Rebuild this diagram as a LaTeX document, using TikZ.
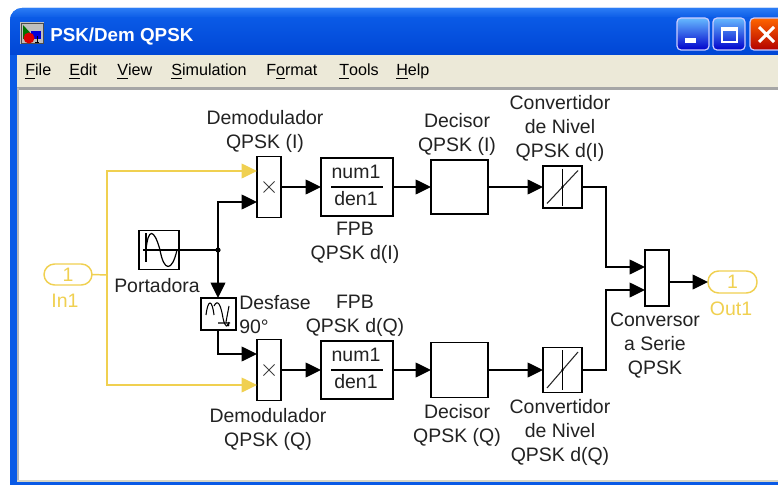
\documentclass[tikz,border=0pt]{standalone}
\usepackage{fontspec}
\setmainfont{Liberation Sans}
\usetikzlibrary{arrows.meta}
\definecolor{xpblue}{HTML}{0A5AE6}
\definecolor{xpdark}{HTML}{0046D5}
\definecolor{xplight}{HTML}{2B7CF5}
\definecolor{menubg}{HTML}{ECE9D8}
\definecolor{simyel}{HTML}{F0D050}
\definecolor{txt}{HTML}{222222}
\def\px{0.75pt}
\tikzset{
 x=0.75pt,y=-0.75pt,
 blockbox/.style={draw=black,line width=1.2pt,fill=white,inner sep=0pt,outer sep=0pt},
 wire/.style={draw=black,line width=1.1pt},
 arrwire/.style={wire,-{Triangle[length=11.5pt,width=11pt]}},
 yelwire/.style={draw=simyel,line width=1.1pt},
 yelarr/.style={yelwire,-{Triangle[length=11.5pt,width=11pt]}},
 lab/.style={font=\fontsize{14.6}{18}\selectfont,text=txt,align=center,inner sep=0pt},
 port/.style={draw=simyel,line width=1.1pt,rounded corners=8pt,fill=white,inner sep=0pt,outer sep=0pt,text=simyel,font=\fontsize{14.6}{18}\selectfont},
 ylab/.style={lab,text=simyel},
 menu/.style={font=\fontsize{12.1}{15}\selectfont,text=black,inner sep=0pt,anchor=base west},
 winbtn/.style={draw=white!80!blue,line width=0.9pt,rounded corners=3pt},
}
\newcommand{\ul}[1]{\underline{#1}}
\begin{document}
\begin{tikzpicture}
\useasboundingbox (0,0) rectangle (778,485);
\fill[white] (0,0) rectangle (778,485);
% window frame
\fill[xpblue,rounded corners=9pt] (10,500) rectangle (800,8);
\begin{scope}
\clip[rounded corners=9pt] (10,500) rectangle (800,8);
\shade[top color=xplight,bottom color=xpblue] (10,8) rectangle (778,18);
\shade[top color=xpblue,bottom color=xpdark] (10,18) rectangle (778,55);
\end{scope}
\fill[xpblue] (10,55) rectangle (17,485);
\fill[xpblue] (17,481) rectangle (778,485);
\fill[menubg] (17,55) rectangle (778,88);
\fill[gray!70] (17,87) rectangle (778,90);
\fill[white] (19,90) rectangle (778,481);
\fill[gray!55] (17,88) rectangle (19,481);
\fill[menubg!80!gray] (17,480) rectangle (778,482);
% title icon
\fill[gray!50] (20,22) rectangle (44,44);
\draw[black!70,line width=0.5pt] (21,23) rectangle (43,43);
\fill[green!45!black] (23,25) -- (23,39) -- (36,39) -- cycle;
\fill[blue!85!black] (31,31) rectangle (41,39);
\fill[red!85!black] (29,38) circle[radius=5.5];
\draw[black,line width=0.6pt] (37,36) -- (37,42) (35,42) -- (39,42);
\node[font=\fontsize{14.1}{17}\bfseries\selectfont,text=white,anchor=base west,inner sep=0pt] (wintitle) at (50,42) {PSK/Dem QPSK};
% window buttons
\shade[winbtn,top color=blue!45!cyan!60!white,bottom color=blue!80!black] (677,18) rectangle (709,50);
\fill[white] (685,38) rectangle (696,43);
\shade[winbtn,top color=blue!45!cyan!60!white,bottom color=blue!80!black] (713,18) rectangle (745,50);
\draw[white,line width=1pt] (722,28) rectangle (737,42);
\fill[white] (722,28) rectangle (737,31);
\shade[winbtn,top color=orange!80!red,bottom color=red!70!black] (750,18) rectangle (790,50);
\draw[white,line width=2.2pt] (759,27) -- (774,42) (774,27) -- (759,42);
% menu
\node[menu] (mfile) at (25,76) {\ul{F}ile};
\node[menu] (medit) at (69,76) {\ul{E}dit};
\node[menu] (mview) at (117,76) {\ul{V}iew};
\node[menu] (msim) at (171,76) {\ul{S}imulation};
\node[menu] (mfmt) at (266,76) {F\ul{o}rmat};
\node[menu] (mtools) at (339,76) {\ul{T}ools};
\node[menu] (mhelp) at (396,76) {\ul{H}elp};
% blocks
\node[port,minimum width=48*\px,minimum height=21*\px] (in) at (68,274.5) {1};
\node[port,minimum width=49*\px,minimum height=22*\px] (out) at (732.5,282) {1};
\node[blockbox,minimum width=24*\px,minimum height=61*\px] (mi) at (269,187) {};
\node[blockbox,minimum width=24*\px,minimum height=61*\px] (mq) at (269,370) {};
\node[blockbox,minimum width=72*\px,minimum height=58*\px] (fi) at (357,187) {};
\node[blockbox,minimum width=72*\px,minimum height=58*\px] (fq) at (357,370) {};
\node[blockbox,minimum width=57*\px,minimum height=54*\px] (di) at (459.5,187) {};
\node[blockbox,minimum width=57*\px,minimum height=55*\px] (dq) at (459.5,370) {};
\node[blockbox,minimum width=39*\px,minimum height=42*\px] (si) at (562.5,187) {};
\node[blockbox,minimum width=39*\px,minimum height=45*\px] (sq) at (562.5,370) {};
\node[blockbox,minimum width=40*\px,minimum height=39*\px] (sin) at (159,250) {};
\node[blockbox,minimum width=35*\px,minimum height=32*\px] (ph) at (218.5,314) {};
\node[blockbox,minimum width=24*\px,minimum height=56*\px] (cs) at (657,278) {};
% ports and bends
\coordinate (j) at (218,250);
\coordinate (y) at (107,275);
\coordinate (miA) at (mi.west|-0,171);
\coordinate (miB) at (mi.west|-0,202);
\coordinate (mqA) at (mq.west|-0,354);
\coordinate (mqB) at (mq.west|-0,385);
\coordinate (csA) at (cs.west|-0,267);
\coordinate (csB) at (cs.west|-0,290);
\coordinate (bus) at (606,0);
% yellow wires
\draw[yelwire] (in.east) -- (y);
\draw[yelarr] (y) |- (miA);
\draw[yelarr] (y) |- (mqB);
% black wires
\draw[wire] (sin.east) -- (j);
\fill (j) circle[radius=2.6];
\draw[arrwire] (j) |- (miB);
\draw[arrwire] (j) -- (ph.north-|j);
\draw[arrwire] (ph.south-|j) |- (mqA);
\draw[arrwire] (mi.east) -- (fi.west);
\draw[arrwire] (mq.east) -- (fq.west);
\draw[arrwire] (fi.east) -- (di.west);
\draw[arrwire] (fq.east) -- (dq.west);
\draw[arrwire] (di.east) -- (si.west);
\draw[arrwire] (dq.east) -- (sq.west);
\draw[arrwire] (si.east) -- (bus|-si.east) |- (csA);
\draw[arrwire] (sq.east) -- (bus|-sq.east) |- (csB);
\draw[arrwire] (cs.east|-out.west) -- (out.west);
% multiply signs
\foreach \c in {mi,mq}{
  \draw[black!75,line width=0.7pt] ([shift={(-5.5,-5.5)}]\c.center) -- ([shift={(5.5,5.5)}]\c.center)
     ([shift={(-5.5,5.5)}]\c.center) -- ([shift={(5.5,-5.5)}]\c.center);
}
% transfer functions
\foreach \c in {fi,fq}{
  \draw[black,line width=0.9pt] ([shift={(-26,0)}]\c.center) -- ([shift={(26,0)}]\c.center);
  \node[lab] at ([shift={(-1,-15)}]\c.center) {num1};
  \node[lab] at ([shift={(-1,12)}]\c.center) {den1};
}
% saturation icons
\draw[black,line width=0.8pt] ([shift={(0,-18.5)}]si.center) -- ([shift={(0,18.5)}]si.center);
\draw[black!85,line width=0.8pt] ([shift={(-15.5,16.5)}]si.center) -- ([shift={(15.5,-16.5)}]si.center);
\draw[black,line width=0.8pt] ([shift={(0,-20)}]sq.center) -- ([shift={(0,20)}]sq.center);
\draw[black!85,line width=0.8pt] ([shift={(-15.5,18)}]sq.center) -- ([shift={(15.5,-18)}]sq.center);
\fill (si.center) circle[radius=1.3];
\fill (sq.center) circle[radius=1.3];
% sine icon
\draw[black,line width=0.8pt] (143,250) -- (sin.east);
\draw[black,line width=0.8pt] (146,233) -- (146,262);
\draw[black,line width=0.9pt] (146,250) .. controls (148,228) and (154,228) .. (160,250) .. controls (164,272) and (172,272) .. (177,250);
% phase icon
\draw[black,line width=0.8pt] (206,315) .. controls (208,299) and (212,299) .. (214,315);
\draw[black,line width=0.8pt] (214,306) .. controls (218,298) and (221,306) .. (223,318) .. controls (225,328) and (228,328) .. (229,322);
\draw[black,line width=0.8pt] (229,306) -- (226,322) (218,323) -- (230,323);
\fill (228,325) circle[radius=1.5];
% labels
\node[ylab] (lin) at (65,301) {In1};
\node[ylab] (lout) at (731,309) {Out1};
\node[lab] (l1) at (265,131) {Demodulador\\QPSK (I)};
\node[lab] (l2) at (457,134.5) {Decisor\\QPSK (I)};
\node[lab] (l3) at (560,128) {Convertidor\\de Nivel\\QPSK d(I)};
\node[lab] (l4) at (355,243) {FPB\\QPSK d(I)};
\node[lab] (l5) at (355,316) {FPB\\QPSK d(Q)};
\node[lab] (l6) at (157,286) {Portadora};
\node[lab,align=left,anchor=west] (l7) at (239,315) {Desfase\\90°};
\node[lab] (l8) at (268,429) {Demodulador\\QPSK (Q)};
\node[lab] (l9) at (457,425) {Decisor\\QPSK (Q)};
\node[lab] (l10) at (560,432) {Convertidor\\de Nivel\\QPSK d(Q)};
\node[lab] (l11) at (655,346) {Conversor\\a Serie\\QPSK};
\end{tikzpicture}
\end{document}
